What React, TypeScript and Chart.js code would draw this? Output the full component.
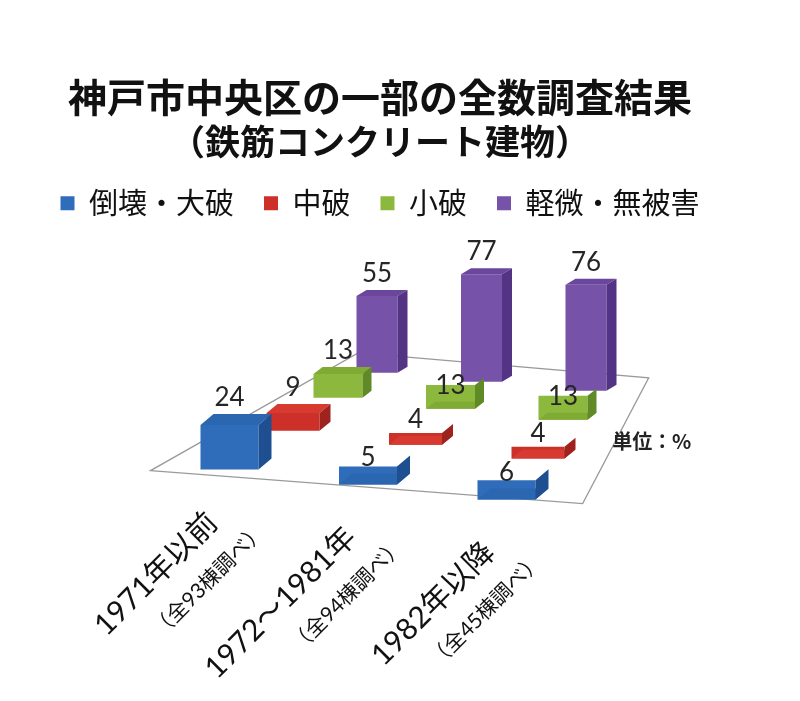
import { useEffect, useRef } from 'react';
import { Chart, registerables } from 'chart.js';

Chart.register(...registerables);

// data
const categories = ['1971年以前', '1972～1981年', '1982年以降'];
const surveyNotes = ['（全93棟調べ）', '（全94棟調べ）', '（全45棟調べ）'];
const seriesNames = ['倒壊・大破', '中破', '小破', '軽微・無被害'];
const collapsed = [24, 5, 6];
const moderate = [9, 4, 4];
const minor = [13, 13, 13];
const slight = [55, 77, 76];
const seriesValues = [collapsed, moderate, minor, slight];

// each series sits on its own depth row of the fake 3D floor
const rows = [
  { x0: 229.5, step: 138.5, width: 58, floorY: 469, slope: 15, lift: 11, unit: 1.4, dx: 13, dy: -11, front: '#2f6dba', top: '#2b66b0', side: '#1e4f90' },
  { x0: 293, step: 122.5, width: 53, floorY: 430, slope: 14, lift: 7, unit: 1.2, dx: 11, dy: -9, front: '#cc3029', top: '#d63a31', side: '#9e231e' },
  { x0: 338, step: 112.5, width: 49, floorY: 397, slope: 11, lift: 7, unit: 1.3, dx: 9, dy: -7, front: '#8cb83e', top: '#7faa34', side: '#5f8a25' },
  { x0: 377, step: 104.5, width: 41, floorY: 372, slope: 9, lift: 0, unit: 1.4, dx: 10, dy: -6, front: '#7652a9', top: '#6a469c', side: '#523384' },
];

const AREA = { left: 0, right: 760, top: 226.6, bottom: 701 };
const JP = '"Noto Sans CJK JP", sans-serif';
const NUM = 'Lato, "Noto Sans CJK JP", sans-serif';

function buildScales() {
  const scales: any = {};
  const W = AREA.right - AREA.left;
  const H = AREA.bottom - AREA.top;
  rows.forEach((r, k) => {
    const xmin = (AREA.left - r.x0) / r.step;
    scales['x' + k] = { type: 'linear', display: false, offset: false, min: xmin, max: xmin + W / r.step, ticks: { stepSize: 1, includeBounds: false } };
    const zero = r.floorY - r.lift;
    const ymin = -(AREA.bottom - zero) / r.unit;
    scales['y' + k] = { type: 'linear', display: false, beginAtZero: false, min: ymin, max: ymin + H / r.unit };
  });
  return scales;
}

const floorPlugin = {
  id: 'floor',
  beforeDatasetsDraw(chart: any) {
    const ctx = chart.ctx;
    const fx = chart.scales.x0, bx = chart.scales.x3;
    const fz = chart.scales.y0.getPixelForValue(-rows[0].lift / rows[0].unit);
    const bz = chart.scales.y3.getPixelForValue(-rows[3].lift / rows[3].unit);
    const pts = [
      [fx.getPixelForValue(-0.57), fz + 1],
      [fx.getPixelForValue(2.55), fz + 34],
      [bx.getPixelForValue(2.6), bz + 5],
      [bx.getPixelForValue(-0.18), bz - 20],
    ];
    ctx.save();
    ctx.beginPath();
    pts.forEach(([x, y], i) => (i ? ctx.lineTo(x, y) : ctx.moveTo(x, y)));
    ctx.closePath();
    ctx.fillStyle = '#ffffff';
    ctx.fill();
    ctx.strokeStyle = '#9a9a9a';
    ctx.lineWidth = 1.3;
    ctx.stroke();
    // unit note on the right edge of the floor
    const ux = bx.getPixelForValue(2.25);
    const uy = chart.scales.y2.getPixelForValue(-(rows[2].lift + 2 * rows[2].slope) / rows[2].unit) + 22;
    ctx.font = 'bold 20px ' + JP;
    ctx.fillStyle = '#222';
    ctx.textAlign = 'left';
    ctx.textBaseline = 'middle';
    ctx.fillText('単位：%', ux, uy);
    ctx.restore();
  },
};

const cuboidPlugin = {
  id: 'cuboid',
  afterDatasetDraw(chart: any, args: any) {
    const r = rows[args.index];
    const ctx = chart.ctx;
    ctx.save();
    args.meta.data.forEach((bar: any) => {
      const { x, y, base, width } = bar.getProps(['x', 'y', 'base', 'width'], true);
      const l = x - width / 2;
      const rt = x + width / 2;
      ctx.fillStyle = r.top;
      ctx.beginPath();
      ctx.moveTo(l, y);
      ctx.lineTo(rt, y);
      ctx.lineTo(rt + r.dx, y + r.dy);
      ctx.lineTo(l + r.dx, y + r.dy);
      ctx.closePath();
      ctx.fill();
      ctx.fillStyle = r.side;
      ctx.beginPath();
      ctx.moveTo(rt, y);
      ctx.lineTo(rt + r.dx, y + r.dy);
      ctx.lineTo(rt + r.dx, base + r.dy);
      ctx.lineTo(rt, base);
      ctx.closePath();
      ctx.fill();
    });
    ctx.restore();
  },
  afterDatasetsDraw(chart: any) {
    const ctx = chart.ctx;
    ctx.save();
    ctx.font = '26px ' + NUM;
    ctx.fillStyle = '#262626';
    ctx.textAlign = 'center';
    ctx.textBaseline = 'alphabetic';
    rows.forEach((r, k) => {
      chart.getDatasetMeta(k).data.forEach((bar: any, c: number) => {
        const { x, y } = bar.getProps(['x', 'y'], true);
        ctx.fillText(String(seriesValues[k][c]), x, y + r.dy - 8);
      });
    });
    ctx.restore();
  },
  afterDraw(chart: any) {
    const ctx = chart.ctx;
    const r = rows[0];
    ctx.save();
    ctx.fillStyle = '#111';
    ctx.textAlign = 'right';
    ctx.textBaseline = 'middle';
    categories.forEach((name, c) => {
      const bx = chart.scales.x0.getPixelForValue(c);
      const by = chart.scales.y0.getPixelForValue(-(r.lift + c * r.slope) / r.unit);
      ctx.save();
      ctx.translate(bx - 17, by + 48);
      ctx.rotate(-Math.PI / 4);
      ctx.font = '30px ' + NUM;
      ctx.fillText(name, 0, 0);
      ctx.font = '21px ' + NUM;
      ctx.fillText(surveyNotes[c], 28, 42);
      ctx.restore();
    });
    ctx.restore();
  },
};

export default function App() {
  const chartRef = useRef<HTMLCanvasElement>(null);
  const chartInstance = useRef<Chart | null>(null);

  useEffect(() => {
    document.body.style.margin = '0';
    if (!chartRef.current) return;
    const ctx = chartRef.current.getContext('2d');
    if (!ctx) return;
    if (chartInstance.current) chartInstance.current.destroy();

    const datasets = rows.map((r, k) => ({
      label: seriesNames[k],
      data: seriesValues[k].map((v, c) => ({
        x: c,
        y: [-(r.lift + c * r.slope) / r.unit, v - (c * r.slope) / r.unit],
      })),
      xAxisID: 'x' + k,
      yAxisID: 'y' + k,
      backgroundColor: r.front,
      borderWidth: 0,
      grouped: false,
      categoryPercentage: 1,
      barPercentage: r.width / r.step,
    }));

    chartInstance.current = new Chart(ctx, {
      type: 'bar',
      data: { datasets } as any,
      options: {
        responsive: true,
        maintainAspectRatio: false,
        animation: false,
        events: [],
        layout: { padding: { top: 74, right: 40, left: 0, bottom: 0 } },
        scales: buildScales(),
        plugins: {
          title: {
            display: true,
            text: '神戸市中央区の一部の全数調査結果',
            color: '#111',
            font: { family: JP, size: 39, weight: 'bold' },
            padding: { top: 0, bottom: 3 },
          },
          subtitle: {
            display: true,
            text: '（鉄筋コンクリート建物）',
            color: '#111',
            font: { family: JP, size: 35, weight: 'bold', lineHeight: 1 },
            padding: 0,
          },
          legend: {
            position: 'top',
            labels: {
              boxWidth: 14,
              boxHeight: 14,
              padding: 30,
              color: '#111',
              font: { family: JP, size: 29 },
            },
          },
          tooltip: { enabled: false },
        },
      } as any,
      plugins: [floorPlugin, cuboidPlugin],
    });

    return () => {
      if (chartInstance.current) {
        chartInstance.current.destroy();
        chartInstance.current = null;
      }
    };
  }, []);

  return (
    <div style={{ position: 'relative', width: 800, height: 701 }}>
      <canvas ref={chartRef} />
    </div>
  );
}
